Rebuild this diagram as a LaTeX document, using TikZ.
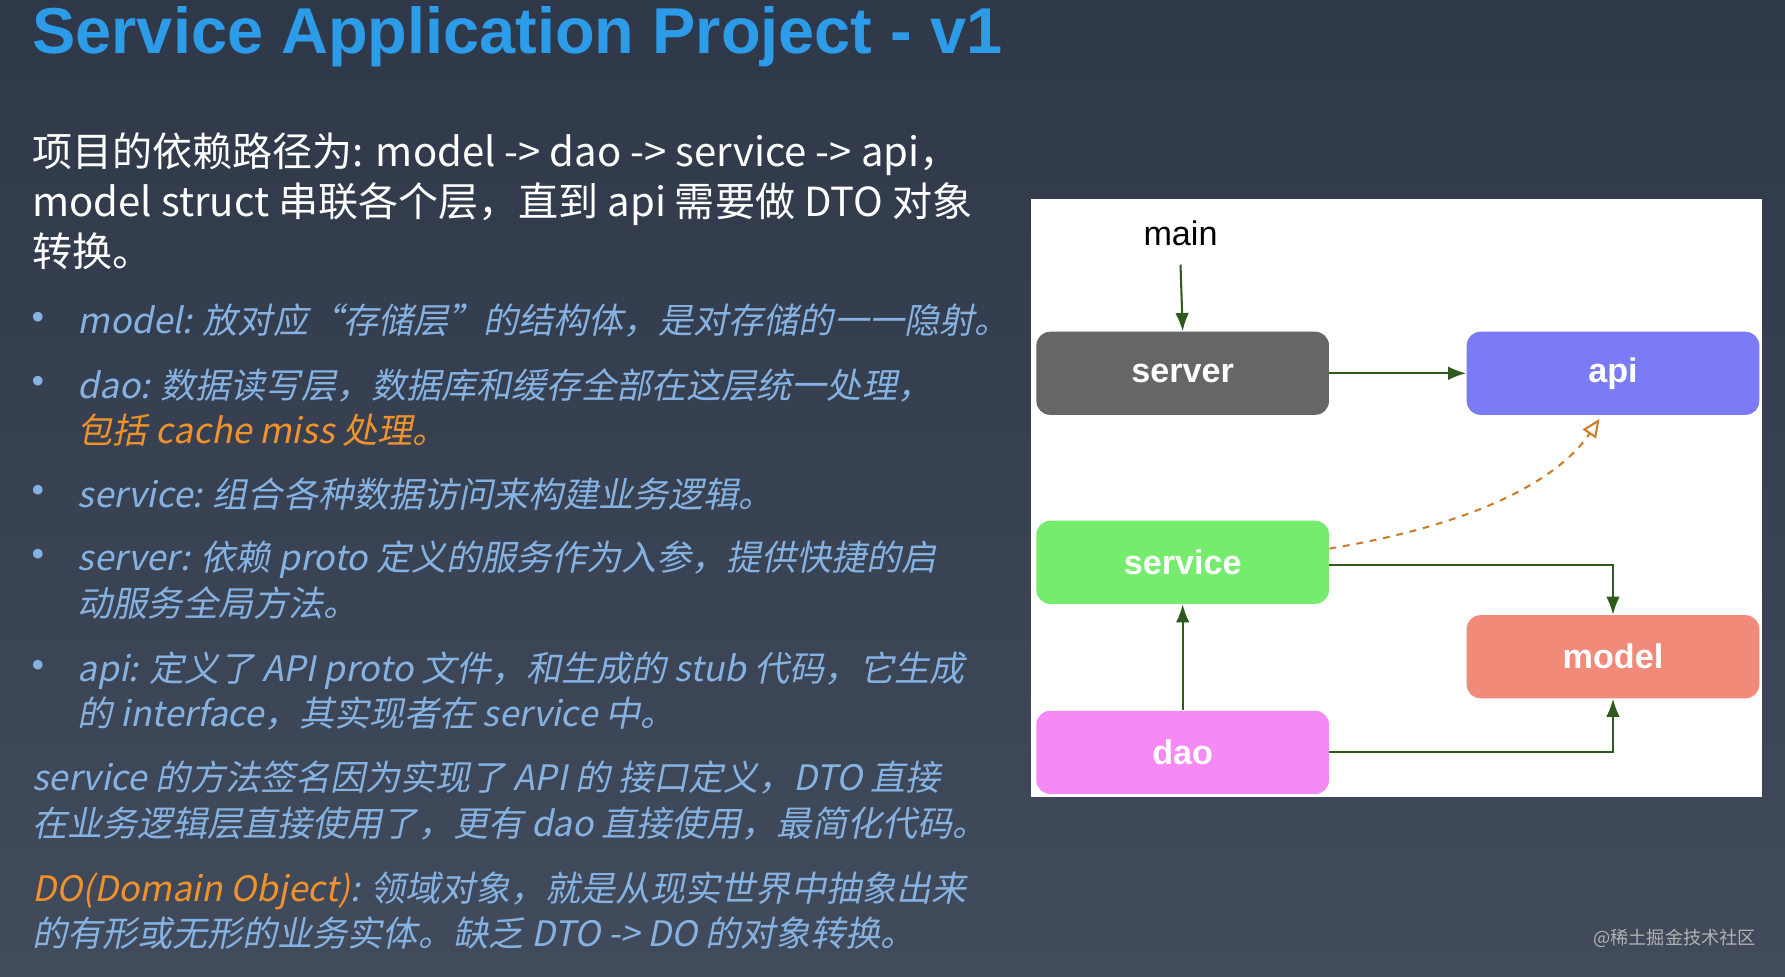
\documentclass[tikz,border=0pt]{standalone}
\usepackage{fontspec}
\setmainfont{Noto Sans CJK SC}
\newfontfamily\cjkit[FakeSlant=0.2]{Noto Sans CJK SC}
\newfontfamily\hel{Liberation Sans}
\usetikzlibrary{arrows.meta}
\definecolor{bgtop}{HTML}{2E3848}
\definecolor{bgbot}{HTML}{414B5B}
\definecolor{ttl}{HTML}{2C9BE8}
\definecolor{itb}{HTML}{86B2E2}
\definecolor{org}{HTML}{F0922C}
\definecolor{arr}{HTML}{2F5A1E}
\tikzset{
  blk/.style={rounded corners=6pt,minimum width=128.5pt,minimum height=36.5pt,text=white,font=\hel\fontsize{15}{15}\selectfont\bfseries,anchor=north west,inner sep=0pt},
  con/.style={draw=arr,line width=0.9pt,-{Latex[length=8pt,width=6pt]}},
  bul/.style={anchor=north west,text=itb,font=\cjkit\fontsize{15.4}{20}\selectfont,align=left,inner sep=0pt}
}
\begin{document}
\begin{tikzpicture}[x=0.5pt,y=-0.5pt]
\shade[top color=bgtop,bottom color=bgbot] (0,0) rectangle (1568,858);
\useasboundingbox (0,0) rectangle (1568,858);
\node[anchor=west,text=ttl,font=\hel\fontsize{28.5}{28.5}\selectfont\bfseries,inner sep=0pt] (title) at (28,32) {Service Application Project - v1};
\node[anchor=north west,text=white,font=\fontsize{17.6}{22}\selectfont,align=left,inner sep=0pt] (intro) at (28,116) {项目的依赖路径为: model -> dao -> service -> api，\\model struct 串联各个层，直到 api 需要做 DTO 对象\\转换。};
\foreach \y in {284,340,436,492,590} \node[text=itb,font=\fontsize{20}{20}\selectfont] at (34,\y) {•};
\node[bul] (b1) at (68,266) {model: 放对应“存储层”的结构体，是对存储的一一隐射。};
\node[bul] (b2) at (68,323) {dao: 数据读写层，数据库和缓存全部在这层统一处理，\\\textcolor{org}{包括 cache miss 处理。}};
\node[bul] (b3) at (68,419) {service: 组合各种数据访问来构建业务逻辑。};
\node[bul] (b4) at (68,475) {server: 依赖 proto 定义的服务作为入参，提供快捷的启\\动服务全局方法。};
\node[bul] (b5) at (68,572) {api: 定义了 API proto 文件，和生成的 stub 代码，它生成\\的 interface，其实现者在 service 中。};
\node[bul] (p1) at (28,668) {service 的方法签名因为实现了 API 的 接口定义，DTO 直接\\在业务逻辑层直接使用了，更有 dao 直接使用，最简化代码。};
\node[bul] (p2) at (28,765) {\textcolor{org}{DO(Domain Object)}: 领域对象，就是从现实世界中抽象出来\\的有形或无形的业务实体。缺乏 DTO -> DO 的对象转换。};
\node[anchor=east,text=gray!60,font=\fontsize{8}{8}\selectfont,inner sep=0pt] (wm) at (1543,824) {@稀土掘金技术社区};
% diagram
\fill[white] (906,175) rectangle (1548,700);
\node[font=\hel\fontsize{15}{15}\selectfont,inner sep=0pt] (main) at (1037,205) {main};
\node[blk,fill=black!60] (server) at (910,291) {server};
\node[blk,fill={rgb,255:red,123;green,123;blue,245}] (api) at (1288,291) {api};
\node[blk,fill={rgb,255:red,118;green,236;blue,110}] (service) at (910,457) {service};
\node[blk,fill={rgb,255:red,242;green,138;blue,122}] (model) at (1288,540) {model};
\node[blk,fill={rgb,255:red,245;green,138;blue,245}] (dao) at (910,624) {dao};
\draw[con] (main.south)+(0,16) -- (server.north);
\draw[con] (server.east) -- (api.west);
\draw[con] (dao.north) -- (service.south);
\draw[con] ([yshift=-1pt]service.east) -| (model.north);
\draw[con] (dao.east) -| (model.south);
\draw[draw=org!85!black,line width=0.9pt,dashed,-{Triangle[open,length=8pt,width=7pt]}] ([yshift=6pt]service.east) .. controls (1300,460) and (1370,420) .. (1405,368);
\end{tikzpicture}
\end{document}
